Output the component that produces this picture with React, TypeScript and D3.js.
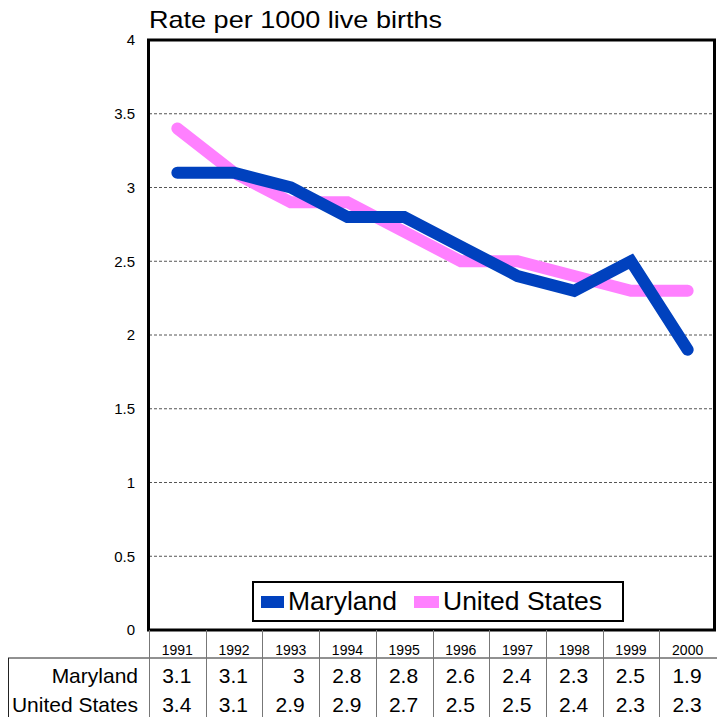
import React from "react";
import * as d3 from "d3";

const years = ["1991", "1992", "1993", "1994", "1995", "1996", "1997", "1998", "1999", "2000"];
const maryland = [3.1, 3.1, 3.0, 2.8, 2.8, 2.6, 2.4, 2.3, 2.5, 1.9];
const unitedStates = [3.4, 3.1, 2.9, 2.9, 2.7, 2.5, 2.5, 2.4, 2.3, 2.3];
const yTicks = [0, 0.5, 1, 1.5, 2, 2.5, 3, 3.5, 4];
const seriesNames = ["Maryland", "United States"];
const seriesColors = ["#0041BE", "#FF80FF"];

const FONT = "Liberation Sans, Arial, Helvetica, sans-serif";

export default function App() {
  const left = 149, right = 716, top = 40, bottom = 630;
  const x = d3.scaleBand<string>().domain(years).range([left, right]);
  const y = d3.scaleLinear().domain([0, 4]).range([bottom, top]);
  const cx = (yr: string) => (x(yr) as number) + x.bandwidth() / 2;
  const line = d3
    .line<number>()
    .x((_, i) => cx(years[i]))
    .y((v) => y(v));
  const series = [maryland, unitedStates];
  const tableTop = 630, headerBottom = 658, tableBottom = 717;
  const rowBaselines = [683, 712];

  return (
    <svg width={717} height={717} style={{ position: "absolute", left: 0, top: 0 }} fontFamily={FONT}>
      <rect x={0} y={0} width={717} height={717} fill="#fff" />
      {/* title */}
      <text x={149} y={28} fontSize={24} textLength={293} lengthAdjust="spacingAndGlyphs" fill="#000">
        Rate per 1000 live births
      </text>
      {/* gridlines */}
      {yTicks.filter((t) => t > 0 && t < 4).map((t) => (
        <line key={t} x1={left} x2={right} y1={y(t)} y2={y(t)} stroke="#555" strokeWidth={1} strokeDasharray="3,2" />
      ))}
      {/* y tick labels */}
      {yTicks.map((t) => (
        <text key={t} x={135} y={y(t)} dy="0.36em" textAnchor="end" fontSize={15} fill="#000">
          {String(t)}
        </text>
      ))}
      {/* series lines: US first, Maryland on top */}
      {[1, 0].map((si) => (
        <path
          key={si}
          d={line(series[si]) as string}
          fill="none"
          stroke={seriesColors[si]}
          strokeWidth={12}
          strokeLinecap="round"
          strokeLinejoin="miter"
        />
      ))}
      {/* plot frame */}
      <rect x={left - 0.5} y={top} width={right - left - 1} height={bottom - top} fill="none" stroke="#000" strokeWidth={3} />
      {/* legend */}
      <rect x={253} y={582} width={370} height={39} fill="#fff" stroke="#000" strokeWidth={2} />
      <rect x={261} y={596} width={23} height={12} fill={seriesColors[0]} />
      <text x={288} y={610} fontSize={25} textLength={109} lengthAdjust="spacingAndGlyphs" fill="#000">{seriesNames[0]}</text>
      <rect x={414} y={596} width={25} height={12} fill={seriesColors[1]} />
      <text x={443} y={610} fontSize={25} textLength={159} lengthAdjust="spacingAndGlyphs" fill="#000">{seriesNames[1]}</text>
      {/* data table */}
      <line x1={8} x2={717} y1={headerBottom} y2={headerBottom} stroke="#222" strokeWidth={1} />
      <line x1={8.5} x2={8.5} y1={headerBottom} y2={tableBottom} stroke="#222" strokeWidth={1} />
      {years.map((yr) => (
        <line
          key={"sep" + yr}
          x1={Math.round(x(yr) as number) + 0.5}
          x2={Math.round(x(yr) as number) + 0.5}
          y1={tableTop}
          y2={tableBottom}
          stroke="#777"
          strokeWidth={1}
        />
      ))}
      {years.map((yr) => (
        <text key={"yr" + yr} x={cx(yr)} y={655} textAnchor="middle" fontSize={14} fill="#000">
          {yr}
        </text>
      ))}
      {seriesNames.map((name, si) => (
        <g key={name}>
          <text x={138} y={rowBaselines[si]} textAnchor="end" fontSize={21} fill="#000">
            {name}
          </text>
          {series[si].map((v, i) => (
            <text key={i} x={cx(years[i]) + 14} y={rowBaselines[si]} textAnchor="end" fontSize={21} fill="#000">
              {String(v)}
            </text>
          ))}
        </g>
      ))}
    </svg>
  );
}
